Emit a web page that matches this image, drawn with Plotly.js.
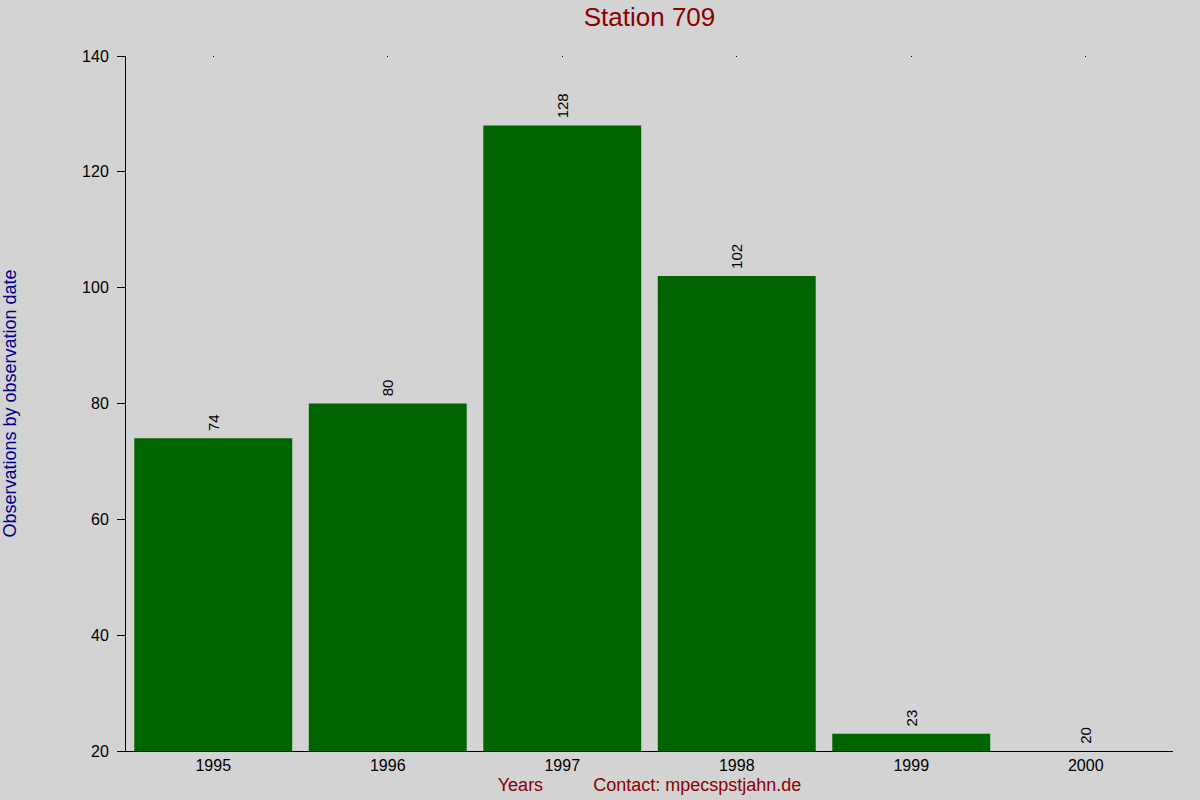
<!DOCTYPE html>
<html><head><meta charset="utf-8">
<script src="https://cdn.plot.ly/plotly-3.0.1.min.js"></script>
<style>body{margin:0;background:#d3d3d3}</style>
</head><body>
<div id="chart" style="width:1200px;height:800px"></div>
<script>
const years = ['1995','1996','1997','1998','1999','2000'];
const observations = [74, 80, 128, 102, 23, 20];
const yTicks = [20, 40, 60, 80, 100, 120, 140];

Plotly.newPlot('chart', [{
  type: 'bar',
  x: years,
  y: observations,
  marker: {color: '#006400'},
  text: observations.map(v => '\u00a0' + v),
  textposition: 'outside',
  textangle: -90,
  textfont: {family: 'Liberation Sans, Arial', size: 15, color: '#000'},
  cliponaxis: false,
  hoverinfo: 'none'
}, {
  type: 'scatter',
  x: years,
  y: observations,
  xaxis: 'x2',
  mode: 'none',
  hoverinfo: 'none'
}], {
  width: 1200, height: 800,
  paper_bgcolor: '#d3d3d3', plot_bgcolor: '#d3d3d3',
  margin: {l: 126, r: 27, t: 56, b: 49},
  bargap: 0.095,
  showlegend: false,
  font: {family: 'Liberation Sans, Arial', size: 16, color: '#000'},
  title: {text: 'Station 709', xref: 'paper', x: 0.5, xanchor: 'center', y: 0.979, yanchor: 'middle',
          font: {size: 26, color: '#8b0000'}},
  xaxis: {
    type: 'category', range: [-0.5, 5.5],
    showline: true, linecolor: '#000', linewidth: 1,
    showgrid: false, zeroline: false,
    ticks: '',
    tickfont: {size: 16},
    title: {text: 'Years\u00a0\u00a0\u00a0\u00a0\u00a0\u00a0\u00a0\u00a0\u00a0\u00a0Contact: mpecspstjahn.de',
            font: {size: 18, color: '#8b0000'}, standoff: 5}
  },
  xaxis2: {
    type: 'category', range: [-0.5, 5.5], overlaying: 'x', side: 'top',
    showline: false, showgrid: false, zeroline: false,
    ticks: 'inside', ticklen: 1, tickwidth: 1, tickcolor: '#000',
    showticklabels: false
  },
  yaxis: {
    range: [20, 140], tickvals: yTicks,
    showline: true, linecolor: '#000', linewidth: 1,
    showgrid: false, zeroline: false,
    ticks: 'outside', ticklen: 8, tickcolor: '#000',
    ticklabelstandoff: 5,
    tickfont: {size: 16},
    title: {text: 'Observations by observation date', font: {size: 18, color: '#00008b'}, standoff: 76}
  }
}, {staticPlot: true});
</script>
</body></html>
